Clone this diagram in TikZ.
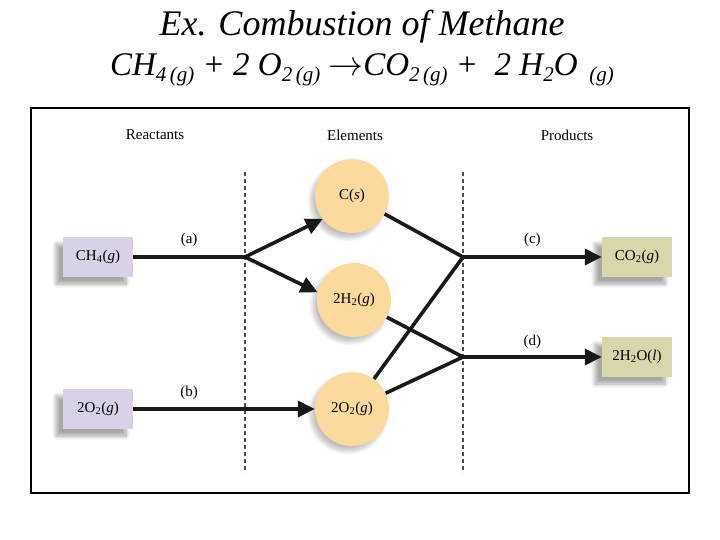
\documentclass[tikz,border=0pt]{standalone}
\usepackage{fontspec}
\setmainfont{Liberation Serif}
\usepackage{tikz}
\usetikzlibrary{arrows.meta, positioning, shadows.blur}
\usepackage{xcolor}
\definecolor{Lilac}{HTML}{D9D1E5}
\definecolor{Khaki}{HTML}{D7D7AB}
\definecolor{Peach}{HTML}{FCDA9D}
\definecolor{DashGray}{HTML}{4A4A4A}

\newcommand{\sbs}[1]{\raisebox{-6pt}{\fontsize{21}{21}\selectfont #1}}

\begin{document}
\begin{tikzpicture}[x=1pt, y=-1pt, every node/.style={font=\fontsize{15}{17}\selectfont},
  species/.style={minimum width=70pt, minimum height=40pt, inner sep=0pt,
    blur shadow={shadow xshift=-7pt, shadow yshift=-7pt, shadow blur steps=10,
      shadow blur radius=4pt, shadow opacity=35}},
  atom/.style={circle, fill=Peach, minimum size=74pt, inner sep=0pt,
    blur shadow={shadow xshift=-4pt, shadow yshift=-5pt, shadow blur steps=10,
      shadow blur radius=4pt, shadow opacity=25}},
  flow/.style={line width=3.6pt, draw=black!90},
  flowto/.style={flow, -{Triangle[length=17pt, width=16pt]}},
  divider/.style={DashGray, line width=1.3pt, dash pattern=on 4pt off 3pt}]
  \useasboundingbox (0,0) rectangle (720,540);
  % Title and equation
  \node[font=\fontsize{36}{40}\selectfont\itshape] (title) at (362,27) {Ex. Combustion of Methane};
  \node[font=\fontsize{33}{38}\selectfont\itshape] (eqn) at (362,70)
    {CH\sbs{4\,(g)} + 2 O\sbs{2\,(g)} \scalebox{1.4}{$\rightarrow$}CO\sbs{2\,(g)} + \ 2 H\sbs{2}O \sbs{\,(g)}};
  % Frame
  \draw[line width=1.2pt] (31,108) rectangle (689,493);
  % Column heads
  \node (hreact) at (155,135) {Reactants};
  \node (helem) at (355,135) {Elements};
  \node (hprod) at (567,135) {Products};
  % Dividers
  \draw[divider] (245,172) -- (245,473);
  \draw[divider] (463,172) -- (463,473);
  % Species
  \node[species, fill=Lilac] (ch4) at (98,257) {CH\textsubscript{4}(\textit{g})};
  \node[species, fill=Lilac] (o2in) at (98,409) {2O\textsubscript{2}(\textit{g})};
  \node[atom] (cs) at (352,196) {C(\textit{s})};
  \node[atom] (h2) at (354,300) {2H\textsubscript{2}(\textit{g})};
  \node[atom] (o2) at (352,409) {2O\textsubscript{2}(\textit{g})};
  \node[species, fill=Khaki] (co2) at (637,257) {CO\textsubscript{2}(\textit{g})};
  \node[species, fill=Khaki] (h2o) at (637,357) {2H\textsubscript{2}O(\textit{l})};
  % Junctions
  \coordinate (ja) at (245,257);
  \coordinate (jc) at (463,257);
  \coordinate (jd) at (463,357);
  % Flows
  \draw[flow] (ch4) -- node[above=5pt] (la) {(a)} (ja);
  \draw[flowto] (ja) -- (cs.218);
  \draw[flowto] (ja) -- (h2.168);
  \draw[flowto] (o2in) -- (o2);
  \path (o2in) -- node[above=6pt] (lb) {(b)} (ja |- o2in);
  \draw[flow] (cs) -- (jc);
  \draw[flow] (o2) -- (jc);
  \draw[flow] (h2) -- (jd);
  \draw[flow] (o2) -- (jd);
  \draw[flowto] (jc) -- node[above=5pt] (lc) {(c)} (co2);
  \draw[flowto] (jd) -- node[above=3pt] (ld) {(d)} (h2o);
\end{tikzpicture}
\end{document}
